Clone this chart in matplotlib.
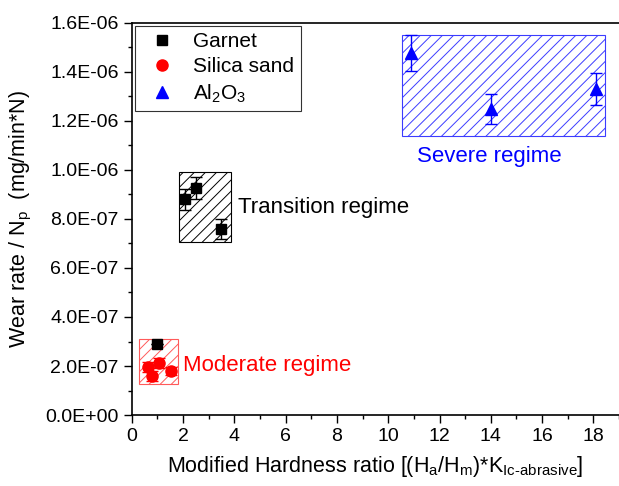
import matplotlib.pyplot as plt
from matplotlib.patches import Rectangle
from matplotlib.lines import Line2D
from matplotlib.ticker import AutoMinorLocator

plt.rcParams['font.family'] = ['Liberation Sans', 'DejaVu Sans']
plt.rcParams['mathtext.fontset'] = 'custom'
plt.rcParams['mathtext.rm'] = 'Liberation Sans'
plt.rcParams['mathtext.it'] = 'Liberation Sans'
plt.rcParams['hatch.linewidth'] = 0.7

# data
garnet_x = [0.97, 2.06, 2.49, 3.47]
garnet_y = [2.88e-7, 8.8e-7, 9.27e-7, 7.6e-7]
garnet_err = [0.0, 4.3e-8, 4.5e-8, 4.0e-8]

silica_x = [0.62, 1.05, 0.78, 1.52]
silica_y = [1.96e-7, 2.12e-7, 1.6e-7, 1.8e-7]
silica_err = [2.0e-8, 2.0e-8, 2.0e-8, 1.8e-8]

al_x = [10.9, 13.99, 18.1]
al_y = [1.478e-6, 1.249e-6, 1.33e-6]
al_err = [7.3e-8, 6.0e-8, 6.5e-8]

# regime boxes: (x0, x1, y0, y1)
moderate_box = (0.27, 1.8, 1.27e-7, 3.1e-7)
transition_box = (1.83, 3.86, 7.06e-7, 9.9e-7)
severe_box = (10.52, 18.47, 1.139e-6, 1.551e-6)

yticks = [0, 2e-7, 4e-7, 6e-7, 8e-7, 1e-6, 1.2e-6, 1.4e-6, 1.6e-6]
ytick_labels = ['0.0E+00', '2.0E-07', '4.0E-07', '6.0E-07', '8.0E-07',
                '1.0E-06', '1.2E-06', '1.4E-06', '1.6E-06']
xticks = [0, 2, 4, 6, 8, 10, 12, 14, 16, 18]

fig = plt.figure(figsize=(6.19, 4.86), dpi=100)
ax = fig.add_axes([0.213, 0.146, 0.787, 0.807])

# regime boxes (hatch colour follows edgecolor)
for b, c in [(moderate_box, '#ff5a5a'), (transition_box, 'black'),
             (severe_box, '#3c3cff')]:
    ax.add_patch(Rectangle((b[0], b[2]), b[1] - b[0], b[3] - b[2],
                           facecolor='none', edgecolor=c, hatch='///',
                           linewidth=0.8, zorder=1))

ax.errorbar(garnet_x, garnet_y, yerr=garnet_err, fmt='s', color='black',
            ms=7, capsize=4, elinewidth=1, zorder=3)
ax.errorbar(silica_x, silica_y, yerr=silica_err, fmt='o', color='red',
            ms=8, capsize=4, elinewidth=1, zorder=3)
ax.errorbar(al_x, al_y, yerr=al_err, fmt='^', color='blue',
            ms=8, capsize=4, elinewidth=1, zorder=3)

ax.text(2.0, 2.04e-7, 'Moderate regime', color='red', fontsize=16, va='center')
ax.text(4.13, 8.45e-7, 'Transition regime', color='black', fontsize=16, va='center')
ax.text(13.95, 1.053e-6, 'Severe regime', color='blue', fontsize=16,
        va='center', ha='center')

ax.set_xlim(0, 19)
ax.set_ylim(0, 1.6e-6)
ax.set_xticks(xticks)
ax.set_yticks(yticks)
ax.set_yticklabels(ytick_labels)
ax.xaxis.set_minor_locator(AutoMinorLocator(2))
ax.yaxis.set_minor_locator(AutoMinorLocator(2))
ax.tick_params(which='major', direction='out', length=6, width=1, labelsize=14)
ax.tick_params(which='minor', direction='out', length=3, width=1)
ax.spines['right'].set_visible(False)
for s in ['left', 'bottom', 'top']:
    ax.spines[s].set_linewidth(1.2)

ax.set_xlabel('Modified Hardness ratio [(H$_a$/H$_m$)*K$_{Ic\u2010abrasive}$]',
              fontsize=15.5, labelpad=6)
ax.set_ylabel('Wear rate / N$_p$  (mg/min*N)', fontsize=15.5, labelpad=8)

handles = [Line2D([], [], ls='none', marker='s', color='black', ms=7),
           Line2D([], [], ls='none', marker='o', color='red', ms=8),
           Line2D([], [], ls='none', marker='^', color='blue', ms=8)]
labels = ['Garnet', 'Silica sand', 'Al$_2$O$_3$']
leg = ax.legend(handles, labels, loc='upper left', fontsize=15, frameon=True,
                fancybox=False, edgecolor='black', borderaxespad=0.15,
                handlelength=2.0, handletextpad=0.5, borderpad=0.3,
                labelspacing=0.3)
leg.get_frame().set_linewidth(0.8)

fig.savefig('out.png', dpi=100)
